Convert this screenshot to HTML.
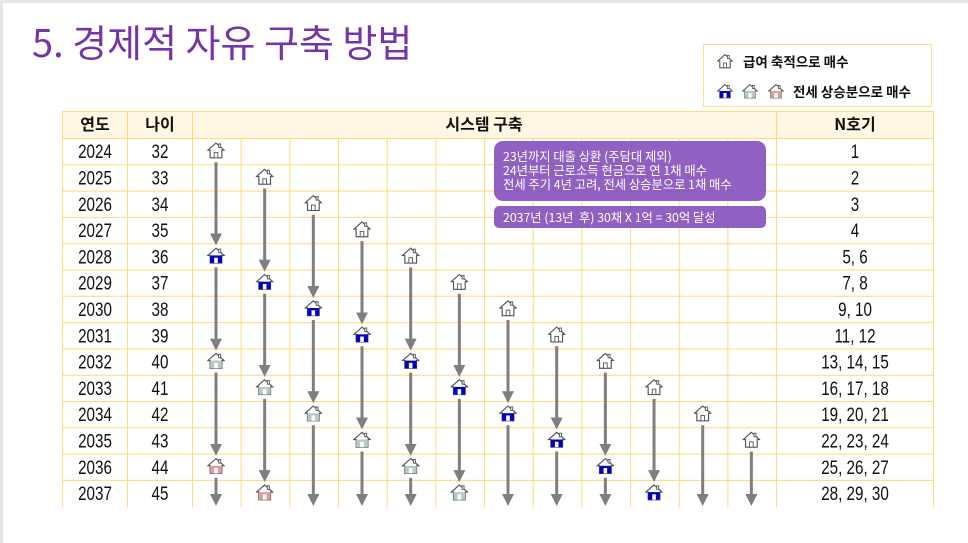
<!DOCTYPE html>
<html><head><meta charset="utf-8"><style>
html,body{margin:0;padding:0;background:#fff;}
svg{display:block;font-family:"Liberation Sans","Noto Sans CJK KR",sans-serif;}
.k{font-family:"Noto Sans CJK KR","Liberation Sans",sans-serif;}
</style></head><body>
<svg id="s" width="968" height="543" viewBox="0 0 968 543" xmlns="http://www.w3.org/2000/svg">
<defs>
<marker id="ah" markerWidth="4" markerHeight="4" refX="2" refY="2" orient="auto" markerUnits="strokeWidth">
<path d="M0,0 L4,2 L0,4 z" fill="#7f7f7f"/></marker>
<symbol id="hw" viewBox="0 0 20 20"><path d="M10,2 L19,10 L16.5,10 L16.5,18.5 L3.5,18.5 L3.5,10 L1,10 Z" fill="#fff" stroke="#555" stroke-width="1.3"/><rect x="13" y="3" width="2.2" height="4" fill="#fff" stroke="#555" stroke-width="1"/><rect x="8" y="12.5" width="4" height="6" fill="#fff" stroke="#555" stroke-width="1"/></symbol>
<symbol id="hb" viewBox="0 0 20 20"><path d="M10,2 L19,10 L16.5,10 L16.5,18.5 L3.5,18.5 L3.5,10 L1,10 Z" fill="#fff" stroke="#555" stroke-width="1.3"/><rect x="3.5" y="10" width="13" height="8.5" fill="#0000c0"/><rect x="13" y="3" width="2.2" height="4" fill="#fff" stroke="#555" stroke-width="1"/><rect x="8" y="12.5" width="4" height="6" fill="#fff"/></symbol>
<symbol id="hg" viewBox="0 0 20 20"><path d="M10,2 L19,10 L16.5,10 L16.5,18.5 L3.5,18.5 L3.5,10 L1,10 Z" fill="#fff" stroke="#555" stroke-width="1.3"/><rect x="3.5" y="10" width="13" height="8.5" fill="#b4cac6"/><rect x="13" y="3" width="2.2" height="4" fill="#fff" stroke="#555" stroke-width="1"/><rect x="8" y="12.5" width="4" height="6" fill="#fff"/></symbol>
<symbol id="hp" viewBox="0 0 20 20"><path d="M10,2 L19,10 L16.5,10 L16.5,18.5 L3.5,18.5 L3.5,10 L1,10 Z" fill="#fff" stroke="#555" stroke-width="1.3"/><rect x="3.5" y="10" width="13" height="8.5" fill="#dba0a0"/><rect x="13" y="3" width="2.2" height="4" fill="#fff" stroke="#555" stroke-width="1"/><rect x="8" y="12.5" width="4" height="6" fill="#fff"/></symbol>
</defs>
<rect x="0" y="0" width="968" height="3" fill="#e6e6e6"/>
<rect x="0" y="0" width="3" height="543" fill="#e6e6e6"/>
<text x="32" y="57" class="k" font-size="38" fill="#7535a8">5. 경제적 자유 구축 방법</text>
<rect x="703.5" y="44.5" width="228" height="62" fill="#fff" stroke="#ffe08a" stroke-width="1"/>
<use href="#hw" x="717" y="53" width="16" height="16"/>
<text x="743" y="67" class="k" font-size="13.5" font-weight="bold" fill="#111">급여 축적으로 매수</text>
<use href="#hb" x="717" y="83" width="16" height="16"/>
<use href="#hg" x="742" y="83" width="16" height="16"/>
<use href="#hp" x="768" y="83" width="16" height="16"/>
<text x="793" y="97" class="k" font-size="13.5" font-weight="bold" fill="#111">전세 상승분으로 매수</text>
<rect x="62" y="111" width="871" height="27" fill="#fff6e3"/>
<g id="grid" stroke="#ffd97a" stroke-width="1"></g>
<g class="k" font-size="16" font-weight="bold" fill="#111" text-anchor="middle">
<text x="95" y="130">연도</text><text x="160" y="130">나이</text><text x="484" y="130">시스템 구축</text><text x="855" y="130">N호기</text>
</g>
<g id="rows" font-size="19" fill="#111" text-anchor="middle"></g>
<g id="ic"></g>
<rect x="494" y="141" width="272" height="60" rx="9" fill="#8450bb" fill-opacity="0.9"/>
<rect x="494" y="206" width="272" height="22" rx="5" fill="#8450bb" fill-opacity="0.9"/>
<g class="k" font-size="12.3" fill="#fff">
<text x="503" y="161">23년까지 대출 상환 (주담대 제외)</text>
<text x="503" y="175">24년부터 근로소득 현금으로 연 1채 매수</text>
<text x="503" y="189">전세 주기 4년 고려, 전세 상승분으로 1채 매수</text>
<text x="503" y="222" xml:space="preserve">2037년 (13년  후) 30채 X 1억 = 30억 달성</text>
</g>
</svg>
<script>
var NS="http://www.w3.org/2000/svg";
function el(p,t,a,txt){var e=document.createElementNS(NS,t);for(var k in a)e.setAttribute(k,a[k]);if(txt!=null)e.textContent=txt;p.appendChild(e);return e;}
var g=document.getElementById('grid'),R=document.getElementById('rows'),I=document.getElementById('ic');
var rh=26.3,top0=138;
for(var r=0;r<=14;r++){var y=(r==0?111:top0+rh*(r-1))+0.5;el(g,'line',{x1:62,x2:933,y1:y,y2:y});}
var xs=[62,127,192];for(var j=1;j<=12;j++)xs.push(192+48.67*j);xs.push(933);
xs.forEach(function(x,i){el(g,'line',{x1:x+0.5,x2:x+0.5,y1:(i>2&&i<14)?138:111,y2:507});});
var nh=["1","2","3","4","5, 6","7, 8","9, 10","11, 12","13, 14, 15","16, 17, 18","19, 20, 21","22, 23, 24","25, 26, 27","28, 29, 30"];
function cy(r){return top0+rh*r+13.2;}
function cx(j){return 216+48.67*j;}
function nt(x,y,s){el(R,'text',{transform:'translate('+x+','+y+') scale(0.8,1)'},s);}
for(var r=0;r<14;r++){var y=cy(r)+7;nt(95,y,String(2024+r));nt(160,y,String(32+r));nt(855,y,nh[r]);}
var types=['hw','hb','hg','hp'];
for(var j=0;j<12;j++){var rs=[];for(var k=0;k<4;k++){var r=j+4*k;if(r<14)rs.push(r);}
 rs.forEach(function(r,k){el(I,'use',{href:'#'+types[k],x:cx(j)-9,y:cy(r)-10,width:18,height:18});
  var next=rs[k+1];var y1=cy(r)+11;var y2;
  if(next!=null)y2=cy(next)-12;else{if(r==13)return;y2=505;}
  el(I,'line',{x1:cx(j),x2:cx(j),y1:y1,y2:y2-5,stroke:'#7f7f7f','stroke-width':3,'marker-end':'url(#ah)'});
 });}
</script>
</body></html>
